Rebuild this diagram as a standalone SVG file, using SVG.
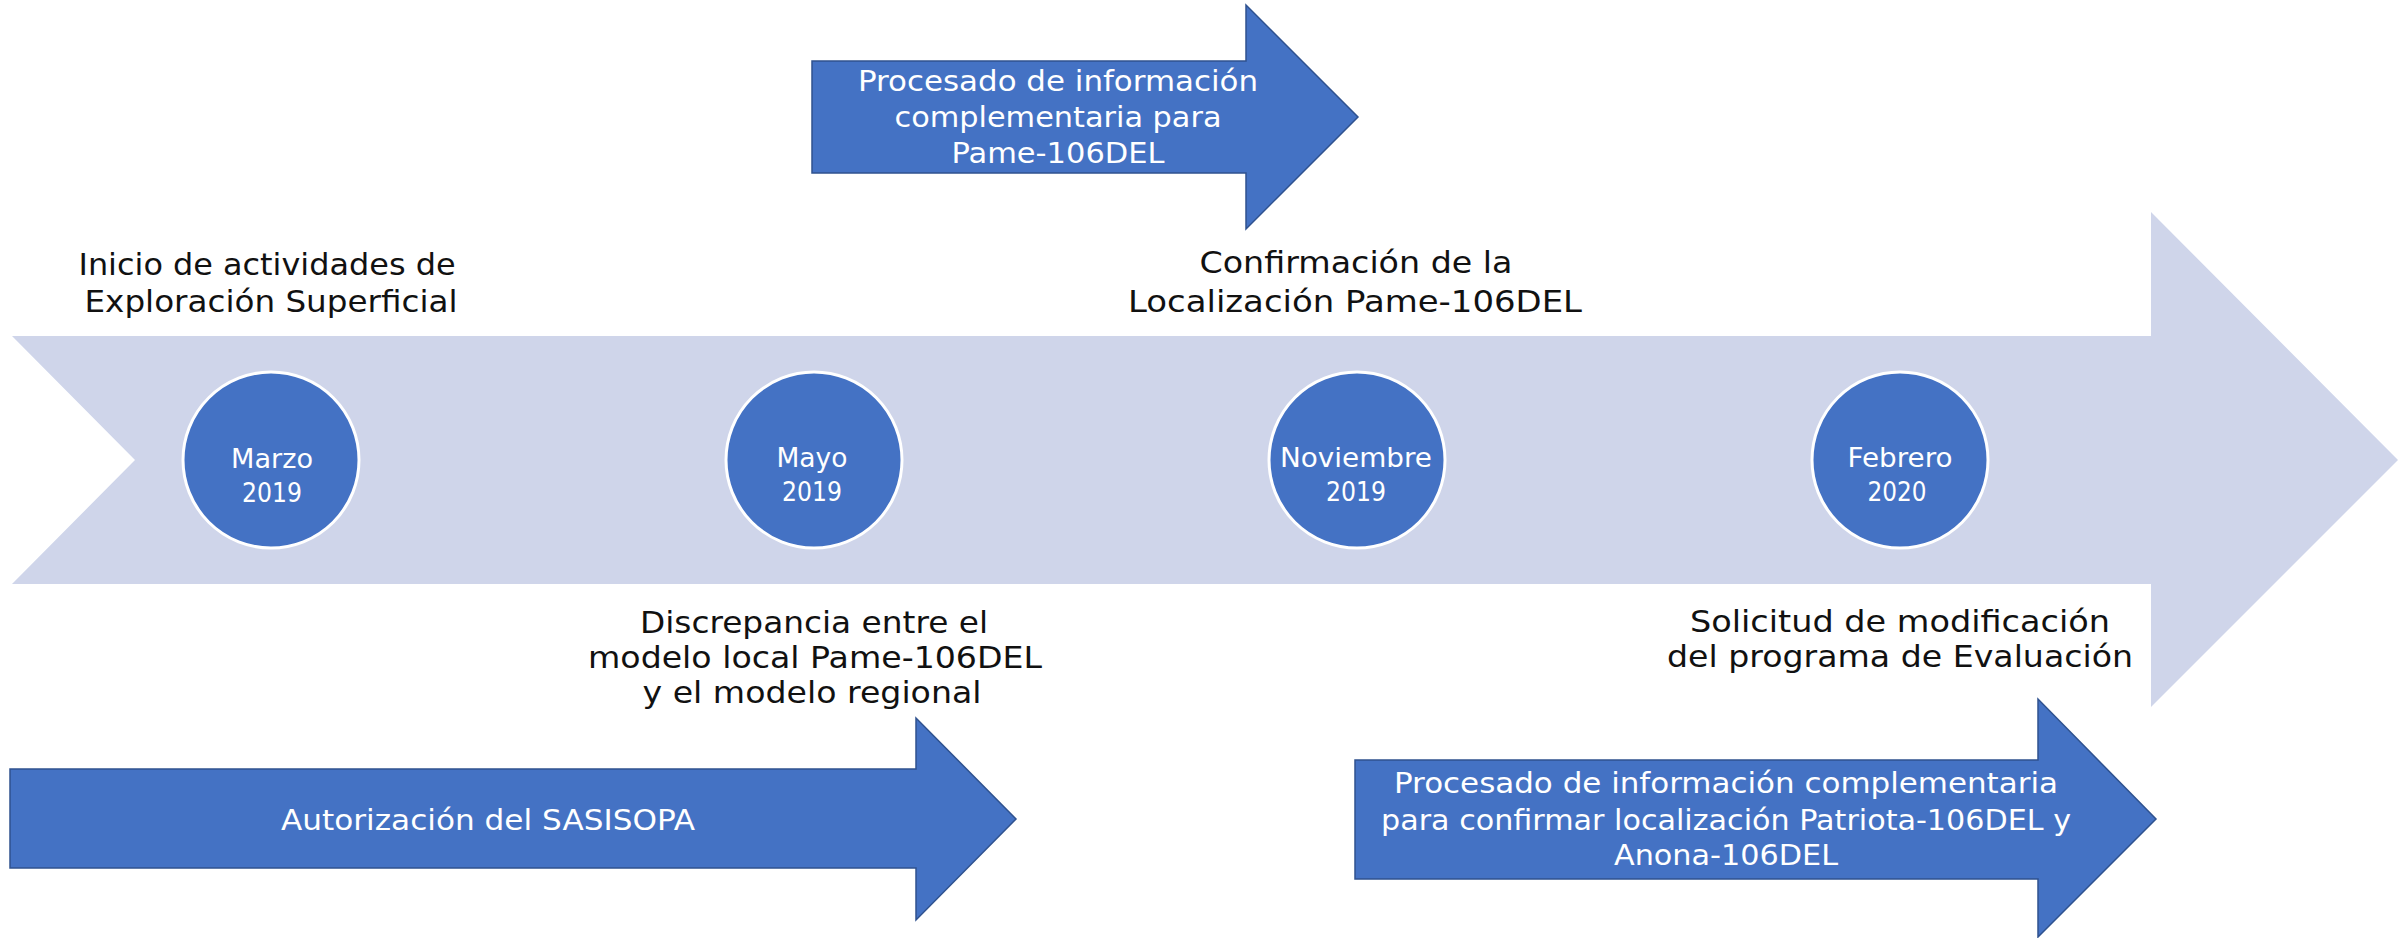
<svg xmlns="http://www.w3.org/2000/svg" width="2402" height="938" viewBox="0 0 2402 938">
<style>
.bg{fill:#ffffff}
.band{fill:#CFD5EA}
.darr{fill:#4472C4;stroke:#2F528F;stroke-width:1.5}
.dot{fill:#4472C4;stroke:#ffffff;stroke-width:3}
.wt{fill:#ffffff;font-family:"DejaVu Sans","Open Sans","Liberation Sans",sans-serif;font-size:29px;text-anchor:middle}
.bt{fill:#111111;font-family:"DejaVu Sans","Open Sans","Liberation Sans",sans-serif;font-size:30px;text-anchor:middle}
.ct{fill:#ffffff;font-family:"DejaVu Sans","Open Sans","Liberation Sans",sans-serif;font-size:26px;text-anchor:middle}
</style>
<rect class="bg" x="0" y="0" width="2402" height="938"/>
<g id="timeline">
<polygon class="band" points="12,336 2151,336 2151,212 2398,460 2151,707 2151,584 12,584 135,460"/>
</g>
<g id="connectors"></g>
<g id="arrow-pame">
<polygon class="darr" points="812,61 1246,61 1246,5 1358,117 1246,229 1246,173 812,173"/>
<text class="wt" x="1058" y="91" textLength="400" lengthAdjust="spacingAndGlyphs">Procesado de información</text>
<text class="wt" x="1058" y="127" textLength="327" lengthAdjust="spacingAndGlyphs">complementaria para</text>
<text class="wt" x="1058" y="163" textLength="213" lengthAdjust="spacingAndGlyphs">Pame-106DEL</text>
</g>
<g id="arrow-sasisopa">
<polygon class="darr" points="10,769 916,769 916,718 1016,819 916,920 916,868 10,868"/>
<text class="wt" x="488" y="830" textLength="414" lengthAdjust="spacingAndGlyphs">Autorización del SASISOPA</text>
</g>
<g id="arrow-patriota">
<polygon class="darr" points="1355,760 2038,760 2038,699 2156,819 2038,937 2038,879 1355,879"/>
<text class="wt" x="1726" y="793" textLength="664" lengthAdjust="spacingAndGlyphs">Procesado de información complementaria</text>
<text class="wt" x="1726" y="830" textLength="690" lengthAdjust="spacingAndGlyphs">para confirmar localización Patriota-106DEL y</text>
<text class="wt" x="1726" y="865" textLength="224" lengthAdjust="spacingAndGlyphs">Anona-106DEL</text>
</g>
<g id="node-marzo">
<circle class="dot" cx="271" cy="460" r="88"/>
<text class="ct" x="272" y="468" textLength="82" lengthAdjust="spacingAndGlyphs">Marzo</text>
<text class="ct" x="272" y="502" textLength="60" lengthAdjust="spacingAndGlyphs">2019</text>
</g>
<g id="node-mayo">
<circle class="dot" cx="814" cy="460" r="88"/>
<text class="ct" x="812" y="467" textLength="71" lengthAdjust="spacingAndGlyphs">Mayo</text>
<text class="ct" x="812" y="501" textLength="60" lengthAdjust="spacingAndGlyphs">2019</text>
</g>
<g id="node-noviembre">
<circle class="dot" cx="1357" cy="460" r="88"/>
<text class="ct" x="1356" y="467" textLength="152" lengthAdjust="spacingAndGlyphs">Noviembre</text>
<text class="ct" x="1356" y="501" textLength="60" lengthAdjust="spacingAndGlyphs">2019</text>
</g>
<g id="node-febrero">
<circle class="dot" cx="1900" cy="460" r="88"/>
<text class="ct" x="1900" y="467" textLength="105" lengthAdjust="spacingAndGlyphs">Febrero</text>
<text class="ct" x="1897" y="501" textLength="59" lengthAdjust="spacingAndGlyphs">2020</text>
</g>
<g id="label-inicio">
<text class="bt" x="267" y="275" textLength="377" lengthAdjust="spacingAndGlyphs">Inicio de actividades de</text>
<text class="bt" x="271" y="312" textLength="373" lengthAdjust="spacingAndGlyphs">Exploración Superficial</text>
</g>
<g id="label-confirmacion">
<text class="bt" x="1356" y="273" textLength="313" lengthAdjust="spacingAndGlyphs">Confirmación de la</text>
<text class="bt" x="1355" y="312" textLength="454" lengthAdjust="spacingAndGlyphs">Localización Pame-106DEL</text>
</g>
<g id="label-discrepancia">
<text class="bt" x="814" y="633" textLength="348" lengthAdjust="spacingAndGlyphs">Discrepancia entre el</text>
<text class="bt" x="815" y="668" textLength="454" lengthAdjust="spacingAndGlyphs">modelo local Pame-106DEL</text>
<text class="bt" x="812" y="703" textLength="339" lengthAdjust="spacingAndGlyphs">y el modelo regional</text>
</g>
<g id="label-solicitud">
<text class="bt" x="1900" y="632" textLength="420" lengthAdjust="spacingAndGlyphs">Solicitud de modificación</text>
<text class="bt" x="1900" y="667" textLength="466" lengthAdjust="spacingAndGlyphs">del programa de Evaluación</text>
</g>
</svg>
